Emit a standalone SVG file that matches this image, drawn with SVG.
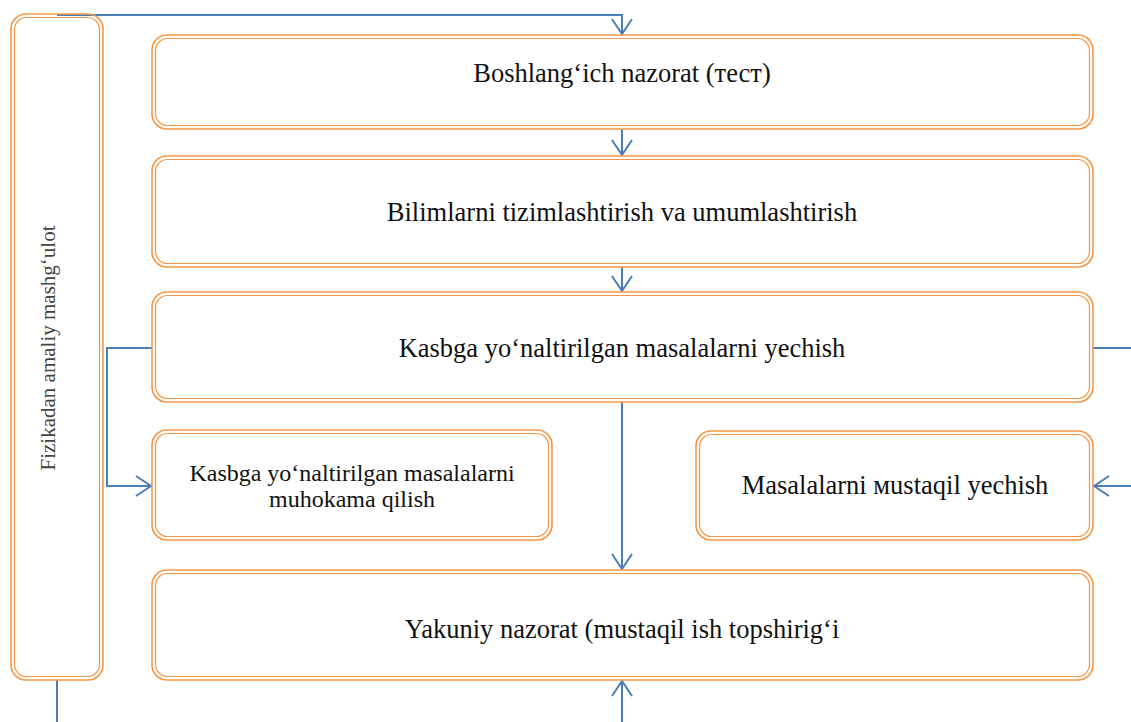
<svg xmlns="http://www.w3.org/2000/svg" width="1131" height="722" viewBox="0 0 1131 722">
<style>
.o{fill:none;stroke:#f79646;stroke-width:1.6}
.i{fill:none;stroke:#f79646;stroke-width:1.2}
.t{font-family:'Liberation Serif','Tinos','DejaVu Serif','Noto Serif',serif;fill:#111;text-anchor:middle}
.c{fill:none;stroke:#4a7ebb;stroke-width:2}
</style>
<defs>
<marker id="ah" viewBox="0 0 17 22" refX="16" refY="11" markerWidth="17" markerHeight="22" markerUnits="userSpaceOnUse" orient="auto">
<path d="M1,1 L16,11 L1,21" fill="none" stroke="#4a7ebb" stroke-width="2"/>
</marker>
</defs>
<rect width="1131" height="722" fill="#fff"/>
<g id="connectors">
<path class="c" d="M57,15 H622 V34" marker-end="url(#ah)"/>
<path class="c" d="M622,129 V155" marker-end="url(#ah)"/>
<path class="c" d="M622,267 V291" marker-end="url(#ah)"/>
<path class="c" d="M152,348 H107 V486 H151" marker-end="url(#ah)"/>
<path class="c" d="M1093,348 H1131"/>
<path class="c" d="M1131,486 H1094" marker-end="url(#ah)"/>
<path class="c" d="M622,402 V569" marker-end="url(#ah)"/>
<path class="c" d="M57,680 V722"/>
<path class="c" d="M622,722 V681" marker-end="url(#ah)"/>
</g>
<g id="left">
<rect class="o" x="11" y="14" width="92" height="666" rx="15"/>
<rect class="i" x="14.5" y="17.5" width="85" height="659" rx="12"/>
<text class="t" font-family="Liberation Serif, serif" transform="translate(55,348) rotate(-90)" font-size="21" style="fill:#444">Fizikadan amaliy mashg‘ulot</text>
</g>
<g id="n1">
<rect class="o" x="152" y="35" width="941" height="94" rx="15"/>
<rect class="i" x="155.5" y="38.5" width="934" height="87" rx="12"/>
<text class="t" font-family="Liberation Serif, serif" x="622" y="82" font-size="26.5">Boshlang‘ich nazorat (тест)</text>
</g>
<g id="n2">
<rect class="o" x="152" y="156" width="941" height="111" rx="15"/>
<rect class="i" x="155.5" y="159.5" width="934" height="104" rx="12"/>
<text class="t" font-family="Liberation Serif, serif" x="622" y="221" font-size="26.5">Bilimlarni tizimlashtirish va umumlashtirish</text>
</g>
<g id="n3">
<rect class="o" x="152" y="292" width="941" height="110" rx="15"/>
<rect class="i" x="155.5" y="295.5" width="934" height="103" rx="12"/>
<text class="t" font-family="Liberation Serif, serif" x="622" y="357" font-size="26.5">Kasbga yo‘naltirilgan masalalarni yechish</text>
</g>
<g id="n4">
<rect class="o" x="152" y="430" width="400" height="110" rx="15"/>
<rect class="i" x="155.5" y="433.5" width="393" height="103" rx="12"/>
<text class="t" font-family="Liberation Serif, serif" x="352" y="481" font-size="24">Kasbga yo‘naltirilgan masalalarni</text>
<text class="t" font-family="Liberation Serif, serif" x="352" y="507" font-size="24">muhokama qilish</text>
</g>
<g id="n5">
<rect class="o" x="696" y="431" width="397" height="109" rx="15"/>
<rect class="i" x="699.5" y="434.5" width="390" height="102" rx="12"/>
<text class="t" font-family="Liberation Serif, serif" x="895" y="494" font-size="26.5">Masalalarni мustaqil yechish</text>
</g>
<g id="n6">
<rect class="o" x="152" y="570" width="941" height="110" rx="15"/>
<rect class="i" x="155.5" y="573.5" width="934" height="103" rx="12"/>
<text class="t" font-family="Liberation Serif, serif" x="622" y="638" font-size="26.5">Yakuniy nazorat (mustaqil ish topshirig‘i</text>
</g>
</svg>
